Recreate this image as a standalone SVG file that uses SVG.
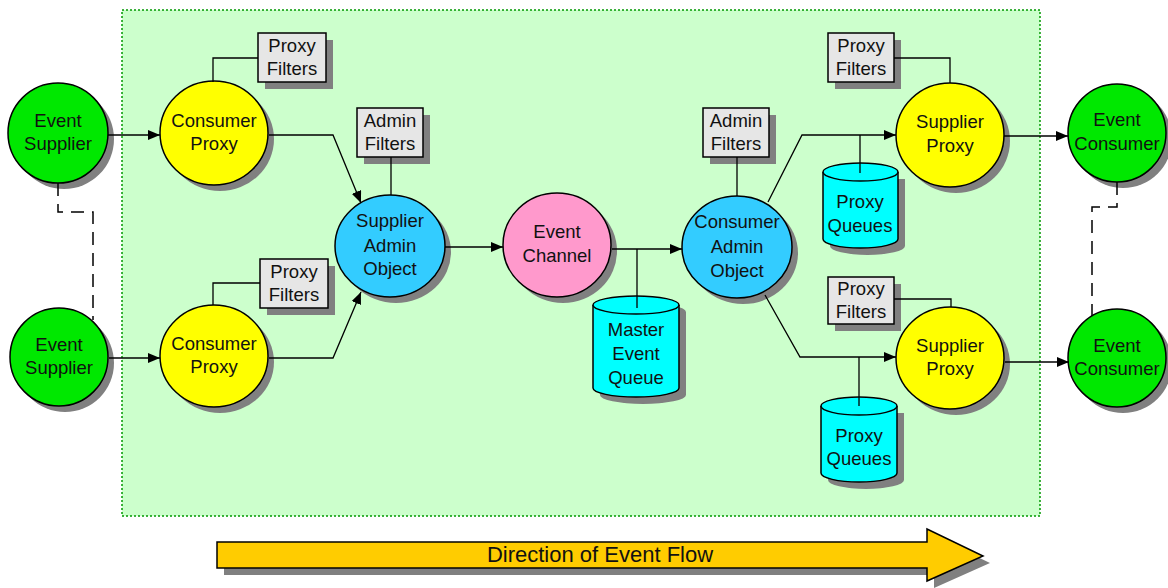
<svg xmlns="http://www.w3.org/2000/svg" width="1168" height="588" viewBox="0 0 1168 588">
<defs>
<style>
text{font-family:"Liberation Sans",Arial,sans-serif;font-size:18.5px;fill:#111;text-anchor:middle}
.sh{fill:#808080;stroke:none}
.nd{stroke:#000;stroke-width:1.5}
.ev{fill:#00e800}
.yl{fill:#ffff00}
.bl{fill:#33ccff}
.pk{fill:#ff99cc}
.cy{fill:#00ffff}
.bx{fill:#e6e6e6}
.ln{fill:none;stroke:#000;stroke-width:1.3}
.ar{marker-end:url(#ah)}
.ds{fill:none;stroke:#000;stroke-width:1.5;stroke-dasharray:13 8}
</style>
<marker id="ah" viewBox="0 0 12 10" refX="12" refY="5" markerWidth="12" markerHeight="10" markerUnits="userSpaceOnUse" orient="auto">
<path d="M0,0 L12,5 L0,10 z" fill="#000"/>
</marker>
</defs>
<rect x="0" y="0" width="1168" height="588" fill="#fff"/>
<rect id="region" x="122" y="10" width="918" height="506" fill="#ccffcc" stroke="#009900" stroke-width="1.5" stroke-dasharray="2 2"/>

<g id="direction-arrow">
<polygon class="sh" points="224,549 934,549 934,536 990,563 934,588 934,575 224,575"/>
<polygon points="217,542 927,542 927,529 983,556 927,581 927,568 217,568" fill="#ffcc00" stroke="#000" stroke-width="1.5"/>
<text x="600" y="562" style="font-size:22px">Direction of Event Flow</text>
</g>

<g id="event-supplier-1">
<circle class="sh" cx="64" cy="139" r="50"/>
<circle class="nd ev" cx="58" cy="133" r="50"/>
<text x="58" y="127">Event</text><text x="58" y="150">Supplier</text>
</g>
<g id="event-supplier-2">
<circle class="sh" cx="65" cy="363" r="49"/>
<circle class="nd ev" cx="59" cy="357" r="49"/>
<text x="59" y="351">Event</text><text x="59" y="374">Supplier</text>
</g>

<g id="consumer-proxy-1">
<ellipse class="sh" cx="220" cy="139" rx="54" ry="52"/>
<ellipse class="nd yl" cx="214" cy="133" rx="54" ry="52"/>
<text x="214" y="127">Consumer</text><text x="214" y="150">Proxy</text>
</g>
<g id="consumer-proxy-2">
<ellipse class="sh" cx="220" cy="362" rx="54" ry="51"/>
<ellipse class="nd yl" cx="214" cy="356" rx="54" ry="51"/>
<text x="214" y="350">Consumer</text><text x="214" y="373">Proxy</text>
</g>

<g id="proxy-filters-1">
<rect class="sh" x="265" y="40" width="68" height="49"/>
<rect class="nd bx" x="258" y="33" width="68" height="49"/>
<text x="292" y="52">Proxy</text><text x="292" y="75">Filters</text>
</g>
<g id="proxy-filters-2">
<rect class="sh" x="267" y="266" width="68" height="49"/>
<rect class="nd bx" x="260" y="259" width="68" height="49"/>
<text x="294" y="278">Proxy</text><text x="294" y="301">Filters</text>
</g>

<g id="supplier-admin">
<ellipse class="sh" cx="396" cy="252" rx="55" ry="51"/>
<ellipse class="nd bl" cx="390" cy="246" rx="55" ry="51"/>
<text x="390" y="227">Supplier</text><text x="390" y="252">Admin</text><text x="390" y="275">Object</text>
</g>
<g id="admin-filters-1">
<rect class="sh" x="364" y="115" width="66" height="49"/>
<rect class="nd bx" x="357" y="108" width="66" height="49"/>
<text x="390" y="127">Admin</text><text x="390" y="150">Filters</text>
</g>

<g id="event-channel">
<ellipse class="sh" cx="563" cy="251" rx="54" ry="52"/>
<ellipse class="nd pk" cx="557" cy="245" rx="54" ry="52"/>
<text x="557" y="238">Event</text><text x="557" y="262">Channel</text>
</g>

<g id="master-event-queue">
<path class="sh" d="M600,312 L600,395 A43,9 0 0 0 686,395 L686,312 A43,9 0 0 0 600,312 z"/>
<path class="nd cy" d="M593,305 L593,388 A43,9 0 0 0 679,388 L679,305"/>
<ellipse class="nd cy" cx="636" cy="305" rx="43" ry="9"/>
<text x="636" y="336">Master</text><text x="636" y="360">Event</text><text x="636" y="384">Queue</text>
</g>

<g id="consumer-admin">
<ellipse class="sh" cx="743" cy="253" rx="55" ry="51"/>
<ellipse class="nd bl" cx="737" cy="247" rx="55" ry="51"/>
<text x="737" y="228">Consumer</text><text x="737" y="253">Admin</text><text x="737" y="277">Object</text>
</g>
<g id="admin-filters-2">
<rect class="sh" x="710" y="115" width="66" height="49"/>
<rect class="nd bx" x="703" y="108" width="66" height="49"/>
<text x="736" y="127">Admin</text><text x="736" y="150">Filters</text>
</g>

<g id="proxy-filters-3">
<rect class="sh" x="835" y="40" width="66" height="49"/>
<rect class="nd bx" x="828" y="33" width="66" height="49"/>
<text x="861" y="52">Proxy</text><text x="861" y="75">Filters</text>
</g>
<g id="proxy-queues-1">
<path class="sh" d="M830,179 L830,246 A37.5,9 0 0 0 905,246 L905,179 z"/>
<path class="nd cy" d="M823,172 L823,239 A37.5,9 0 0 0 898,239 L898,172"/>
<ellipse class="nd cy" cx="860.5" cy="172" rx="37.5" ry="9"/>
<text x="860" y="208">Proxy</text><text x="860" y="232">Queues</text>
</g>
<g id="supplier-proxy-1">
<ellipse class="sh" cx="956" cy="141" rx="54" ry="52"/>
<ellipse class="nd yl" cx="950" cy="135" rx="54" ry="52"/>
<text x="950" y="128">Supplier</text><text x="950" y="152">Proxy</text>
</g>

<g id="proxy-filters-4">
<rect class="sh" x="835" y="284" width="66" height="47"/>
<rect class="nd bx" x="828" y="277" width="66" height="47"/>
<text x="861" y="295">Proxy</text><text x="861" y="318">Filters</text>
</g>
<g id="proxy-queues-2">
<path class="sh" d="M828,413 L828,480 A38,9 0 0 0 904,480 L904,413 z"/>
<path class="nd cy" d="M821,406 L821,473 A38,9 0 0 0 897,473 L897,406"/>
<ellipse class="nd cy" cx="859" cy="406" rx="38" ry="9"/>
<text x="859" y="442">Proxy</text><text x="859" y="465">Queues</text>
</g>
<g id="supplier-proxy-2">
<ellipse class="sh" cx="956" cy="364" rx="54" ry="51"/>
<ellipse class="nd yl" cx="950" cy="358" rx="54" ry="51"/>
<text x="950" y="352">Supplier</text><text x="950" y="375">Proxy</text>
</g>

<g id="event-consumer-1">
<circle class="sh" cx="1123" cy="139" r="49"/>
<circle class="nd ev" cx="1117" cy="133" r="49"/>
<text x="1117" y="126">Event</text><text x="1117" y="150">Consumer</text>
</g>
<g id="event-consumer-2">
<circle class="sh" cx="1123" cy="364" r="49"/>
<circle class="nd ev" cx="1117" cy="358" r="49"/>
<text x="1117" y="352">Event</text><text x="1117" y="375">Consumer</text>
</g>

<g id="connectors">
<path class="ln ar" d="M108,135 L160,135"/>
<path class="ln ar" d="M109,358 L160,358"/>
<path class="ln ar" d="M269,135 L333,135 L361,203"/>
<path class="ln ar" d="M269,358 L333,358 L361,292"/>
<path class="ln" d="M258,58 L213,58 L213,82"/>
<path class="ln" d="M260,283 L213,283 L213,305"/>
<path class="ln" d="M391,157 L391,195"/>
<path class="ln ar" d="M445,247 L503,247"/>
<path class="ln ar" d="M612,249 L682,249"/>
<path class="ln" d="M637,249 L637,308"/>
<path class="ln" d="M737,157 L737,196"/>
<path class="ln ar" d="M768,202 L802,135 L896,135"/>
<path class="ln" d="M860,135 L860,173"/>
<path class="ln ar" d="M765,295 L800,357 L896,357"/>
<path class="ln" d="M859,357 L859,406"/>
<path class="ln" d="M894,58 L950,58 L950,83"/>
<path class="ln" d="M894,299 L951,299 L951,307"/>
<path class="ln ar" d="M1004,136 L1068,136"/>
<path class="ln ar" d="M1005,362 L1069,362"/>
<path class="ds" d="M58,183 L58,212 L93,212 L93,320"/>
<path class="ds" d="M1117,182 L1117,207 L1092,207 L1092,316"/>
</g>
</svg>
